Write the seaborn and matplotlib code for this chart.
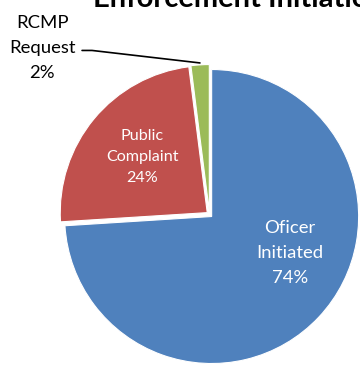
import matplotlib
matplotlib.use("Agg")
import matplotlib.pyplot as plt
import seaborn as sns

categories = ["Oficer\nInitiated", "Public\nComplaint", "RCMP\nRequest"]
values = [74, 24, 2]
colors = ["#4F81BD", "#C0504D", "#9BBB59"]
title = "Enforcement Initiation"

sns.set_theme(style="white")
plt.rcParams["font.family"] = ["Lato", "DejaVu Sans"]

W, H = 360, 366
fig = plt.figure(figsize=(W / 100, H / 100), dpi=100)
ax = fig.add_axes([0, 0, 1, 1])

wedges, _ = ax.pie(values, colors=colors, startangle=90, counterclock=False,
                   explode=[0.02, 0.02, 0.02], radius=1.0,
                   wedgeprops=dict(edgecolor="white", linewidth=0.8))

scale = 147.0
cx, cy = 209.5, 214.5
ax.set_aspect("auto")
ax.set_xlim(-cx / scale, (W - cx) / scale)
ax.set_ylim(-(H - cy) / scale, cy / scale)
ax.axis("off")

total = sum(values)
labels = [f"{c}\n{v / total * 100:.0f}%" for c, v in zip(categories, values)]

ax.text(0.548, -0.262, labels[0], color="white", fontsize=13.3,
        ha="center", va="center", linespacing=1.68)
ax.text(-0.459, 0.391, labels[1], color="white", fontsize=11.6,
        ha="center", va="center", linespacing=1.6)
ax.text(-1.139, 1.133, labels[2], color="black", fontsize=13.3,
        ha="center", va="center", linespacing=1.68)
ax.plot([-0.867, -0.799, -0.065], [1.116, 1.116, 1.031], color="black",
        linewidth=1.2, clip_on=False)

fig.text(93 / W, 1 - 7 / H, title, fontsize=21, fontweight="bold",
         ha="left", va="baseline", color="black")

fig.savefig("out.png", dpi=100)
